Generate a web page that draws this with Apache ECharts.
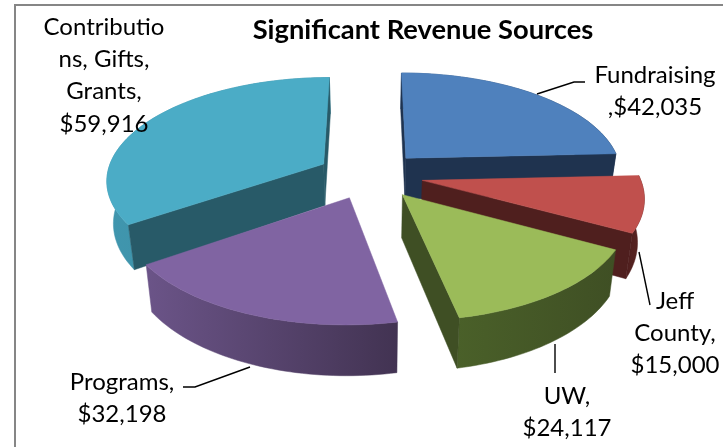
<!DOCTYPE html>
<html>
<head>
<meta charset="utf-8">
<style>html,body{margin:0;padding:0;background:#fff}#c{width:723px;height:447px}</style>
<script src="https://cdn.jsdelivr.net/npm/echarts@6/dist/echarts.min.js"></script>
</head>
<body>
<div id="c"></div>
<script>
const titleText = 'Significant Revenue Sources';
const categories = ['Fundraising', 'Jeff County', 'UW', 'Programs', 'Contributions, Gifts, Grants'];
const values = [42035, 15000, 24117, 32198, 59916];
const labelLines = [
  ['Fundraising', ',$42,035'],
  ['Jeff', 'County,', '$15,000'],
  ['UW,', '$24,117'],
  ['Programs,', '$32,198'],
  ['Contributio', 'ns, Gifts,', 'Grants,', '$59,916']
];
const topColors  = ['#4f81bd', '#c0504d', '#9bbb59', '#8064a2', '#4bacc6'];
const cutColors  = ['#1f334f', '#4f1f1e', '#3f4f24', '#3f3151', '#285a68'];
const rimLeft    = ['#3f6797', '#4f1f1e', '#4a6029', '#6b5488', '#4096ae'];
const rimRight   = ['#1f334f', '#5a2422', '#3f4f24', '#423352', '#3a8aa0'];
const drawOrder  = [0, 4, 1, 2, 3];

// projection of the tilted, exploded pie
const CX = 370, CY = 175, RX = 217, AY = 101.8, Q = 0.1427, EXPLX = 0.245, EXPLY = 0.234, DEPTH = 42, SHRINK = 0.975;
function project(X, Y, low) {
  const f = 1 / (1 - Q * Y);
  return [CX + RX * X * f * (low ? SHRINK : 1), CY + AY * Y * f + (low ? DEPTH * f : 0)];
}
const total = values.reduce((a, b) => a + b, 0);
const slices = [];
values.reduce((acc, v) => {
  const a0 = acc / total * 2 * Math.PI, a1 = (acc + v) / total * 2 * Math.PI;
  slices.push([a0, a1]);
  return acc + v;
}, 0);
function area(p) {
  let s = 0;
  p.forEach((q, i) => { const r = p[(i + 1) % p.length]; s += q[0] * r[1] - r[0] * q[1]; });
  return s;
}
function poly(points, fill, stroke) {
  return { type: 'polygon', shape: { points }, style: { fill, stroke: stroke || fill, lineWidth: 0.5 } };
}
function renderSlice(params, api) {
  const i = api.value(1);
  const [a0, a1] = slices[i];
  const b = (a0 + a1) / 2;
  const ox = EXPLX * Math.sin(b), oy = -EXPLY * Math.cos(b);
  const P = (a, low) => project(ox + Math.sin(a), oy - Math.cos(a), low);
  const A = low => project(ox, oy, low);
  const n = Math.max(8, Math.round((a1 - a0) * 40));
  const arcT = [], arcB = [];
  for (let k = 0; k <= n; k++) {
    const a = a0 + (a1 - a0) * k / n;
    arcT.push(P(a, false));
    arcB.push(P(a, true));
  }
  const children = [];
  // outer wall
  const rimGrad = { type: 'linear', x: 0, y: 0, x2: 1, y2: 0,
    colorStops: [{ offset: 0, color: rimLeft[i] }, { offset: 1, color: rimRight[i] }] };
  children.push(poly(arcT.concat(arcB.slice().reverse()), rimGrad));
  // cut faces
  const startCut = [A(false), P(a0, false), P(a0, true), A(true)];
  const endCut = [A(false), P(a1, false), P(a1, true), A(true)];
  if (area(startCut) < 0) children.push(poly(startCut, cutColors[i]));
  if (area(endCut) > 0) children.push(poly(endCut, cutColors[i]));
  // top face
  children.push(poly([A(false)].concat(arcT), topColors[i]));
  return { type: 'group', children };
}
const leaderPaths = [
  [[537, 94], [574, 82], [585, 82]],
  [[639, 252], [650, 305]],
  [[555, 344], [555, 373]],
  [[250, 367], [195, 387], [183, 387]]
];
const labelAnchors = [[655, 75], [675, 301], [567, 396], [122, 382], [104, 27]];
const LINE = 32.3;
const graphics = [
  { type: 'polyline', silent: true, z: 0, shape: { points: [[15, 460], [15, 5], [740, 5]] },
    style: { stroke: '#868686', lineWidth: 2, fill: null } }
];
leaderPaths.forEach(points => graphics.push({ type: 'polyline', z: 5, shape: { points },
  style: { stroke: '#000', lineWidth: 1.4, fill: null } }));
labelLines.forEach((lines, i) => lines.forEach((t, j) => graphics.push({
  type: 'text', z: 6, x: labelAnchors[i][0], y: labelAnchors[i][1] + j * LINE,
  style: { text: t, fill: '#000', font: '24px Lato', align: 'center', verticalAlign: 'middle' }
})));
const chart = echarts.init(document.getElementById('c'), null, { renderer: 'canvas' });
chart.setOption({
  animation: false,
  backgroundColor: '#fff',
  title: { text: titleText, left: 418, top: 25, textAlign: 'center', textVerticalAlign: 'middle',
    textStyle: { fontFamily: 'Lato', fontWeight: 'bold', fontSize: 27.3, color: '#000' } },
  graphic: graphics,
  series: [{
    type: 'custom',
    coordinateSystem: 'none',
    renderItem: renderSlice,
    data: drawOrder.map(i => ({ name: categories[i], value: [values[i], i] }))
  }]
});
</script>
</body>
</html>
